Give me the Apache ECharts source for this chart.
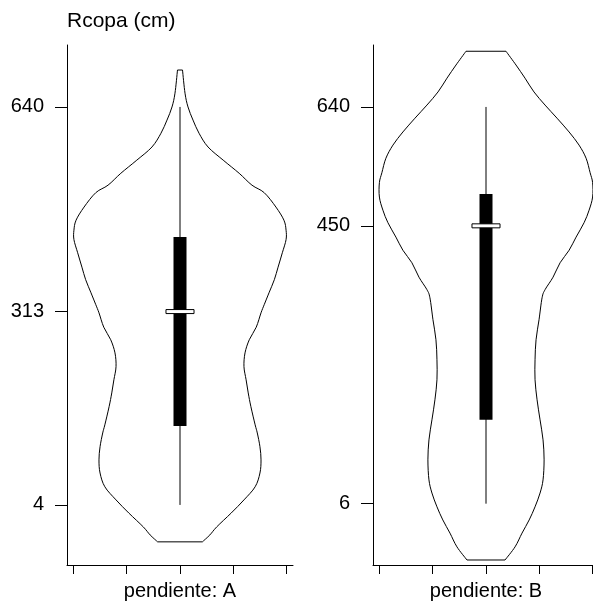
<!DOCTYPE html>
<html>
<head>
<meta charset="utf-8">
<script src="https://cdn.jsdelivr.net/npm/echarts@6/dist/echarts.min.js"></script>
<style>
  html, body { margin: 0; padding: 0; background: #fff; }
  #chart { width: 593px; height: 605px; }
</style>
</head>
<body>
<div id="chart"></div>
<script>
// Panel labels
const panelNames = ['pendiente: A', 'pendiente: B'];
const yAxisTitle = 'Rcopa (cm)';

// Density outline, pendiente A: Rcopa values (top to bottom) and half-widths
const densityValuesA = [699, 662, 640, 619, 598, 576, 555, 534, 515, 503, 480, 459, 443, 428, 407, 384, 364, 343,
  324, 311, 288, 268, 247, 225, 204, 183, 161, 132, 119, 97, 76, 55, 33, 12, -9, -31, -44, -55];
const densityWidthsA = [0.047, 0.094, 0.15, 0.244, 0.357, 0.526, 0.81, 1.11, 1.35, 1.58, 1.80, 1.95, 1.99, 1.99,
  1.92, 1.84, 1.77, 1.67, 1.58, 1.52, 1.43, 1.30, 1.22, 1.20, 1.24, 1.28, 1.33, 1.41, 1.45, 1.50, 1.52, 1.50,
  1.41, 1.20, 0.96, 0.69, 0.56, 0.42];

// Density outline, pendiente B
const densityValuesB = [729, 707, 686, 664, 643, 622, 600, 579, 558, 535, 519, 496, 475, 455, 432, 411, 391, 368,
  348, 335, 300, 268, 236, 204, 172, 140, 108, 76, 44, 23, 1, -20, -41, -63, -84];
const densityWidthsB = [0.375, 0.563, 0.732, 0.90, 1.108, 1.333, 1.559, 1.746, 1.878, 1.953, 2.0, 2.0, 1.934,
  1.84, 1.69, 1.559, 1.39, 1.258, 1.108, 1.052, 0.995, 0.939, 0.92, 0.92, 0.958, 1.014, 1.07, 1.09, 1.07, 1.014,
  0.92, 0.81, 0.676, 0.545, 0.357];

// Box statistics: lower whisker, Q1, median, Q3, upper whisker
const boxStatsA = [4, 130, 313, 432, 640];
const boxStatsB = [6, 140, 450, 501, 640];

// Tick labels on each value axis
const tickValuesA = [4, 313, 640];
const tickValuesB = [6, 450, 640];

// Tick positions along each panel's horizontal axis
const xTickPositions = [-2, -1, 0, 1, 2];

const FONT = '"Liberation Sans", Arial, Helvetica, sans-serif';

// Smooth curve through pixel points as a chain of cubic Bezier pieces (Catmull-Rom)
function smoothCurve(points, style) {
  const pieces = [];
  const n = points.length;
  for (let i = 0; i < n - 1; i++) {
    const p0 = points[Math.max(i - 1, 0)];
    const p1 = points[i];
    const p2 = points[i + 1];
    const p3 = points[Math.min(i + 2, n - 1)];
    pieces.push({
      type: 'bezierCurve',
      shape: {
        x1: p1[0], y1: p1[1], x2: p2[0], y2: p2[1],
        cpx1: p1[0] + (p2[0] - p0[0]) / 6, cpy1: p1[1] + (p2[1] - p0[1]) / 6,
        cpx2: p2[0] - (p3[0] - p1[0]) / 6, cpy2: p2[1] - (p3[1] - p1[1]) / 6
      },
      style: style
    });
  }
  return pieces;
}

function violinRenderer(values, widths, stats) {
  return function (params, api) {
    const n = values.length;
    const left = values.map((v, i) => api.coord([-widths[i], v]));
    const right = values.map((v, i) => api.coord([widths[i], v]));
    const outline = { stroke: '#000', lineWidth: 1, fill: null };
    const whiskTop = api.coord([0, stats[4]]);
    const whiskBot = api.coord([0, stats[0]]);
    const q1 = api.coord([0, stats[1]]);
    const q3 = api.coord([0, stats[3]]);
    const med = api.coord([0, stats[2]]);
    const boxHalf = api.size([0.122, 0])[0];
    const medHalf = api.size([0.263, 0])[0];
    const children = []
      .concat(smoothCurve(left, outline))
      .concat(smoothCurve(right, outline))
      .concat([
        { type: 'line', shape: { x1: left[0][0], y1: left[0][1], x2: right[0][0], y2: right[0][1] }, style: outline },
        { type: 'line', shape: { x1: left[n - 1][0], y1: left[n - 1][1], x2: right[n - 1][0], y2: right[n - 1][1] }, style: outline },
        { type: 'line', shape: { x1: whiskTop[0], y1: whiskTop[1], x2: whiskBot[0], y2: whiskBot[1] }, style: outline },
        { type: 'rect', shape: { x: q3[0] - boxHalf, y: q3[1], width: boxHalf * 2, height: q1[1] - q3[1] },
          style: { fill: '#000' } },
        { type: 'rect', shape: { x: med[0] - medHalf, y: med[1] - 2, width: medHalf * 2, height: 4 },
          style: { fill: '#fff', stroke: '#000', lineWidth: 1 } }
      ]);
    return { type: 'group', children: children };
  };
}

function xAxisFor(gridIndex, name) {
  return {
    type: 'value', gridIndex: gridIndex, min: -2.12, max: 2.12,
    name: name, nameLocation: 'middle', nameGap: 16,
    nameTextStyle: { fontFamily: FONT, fontSize: 20, color: '#000', verticalAlign: 'top' },
    axisLine: { show: true, onZero: false, lineStyle: { color: '#000', width: 1 } },
    axisTick: { show: true, customValues: xTickPositions, length: 9, lineStyle: { color: '#000' } },
    axisLabel: { show: false },
    splitLine: { show: false }
  };
}

function yAxisFor(gridIndex, ticks, withTitle) {
  const ax = {
    type: 'value', gridIndex: gridIndex, min: -92, max: 739,
    axisLine: { show: true, onZero: false, lineStyle: { color: '#000', width: 1 } },
    axisTick: { show: true, customValues: ticks, length: 12, lineStyle: { color: '#000' } },
    axisLabel: { show: true, customValues: ticks, margin: 23, fontFamily: FONT, fontSize: 20, color: '#000' },
    splitLine: { show: false }
  };
  if (withTitle) {
    ax.name = yAxisTitle;
    ax.nameLocation = 'end';
    ax.nameGap = 13;
    ax.nameTextStyle = { fontFamily: FONT, fontSize: 21, color: '#000', align: 'left', verticalAlign: 'bottom' };
  }
  return ax;
}

const chart = echarts.init(document.getElementById('chart'), null, { renderer: 'canvas' });
chart.setOption({
  animation: false,
  backgroundColor: '#fff',
  grid: [
    { left: 67, top: 45, width: 226, bottom: 40, outerBoundsMode: 'none' },
    { left: 373, top: 45, width: 226, bottom: 40, outerBoundsMode: 'none' }
  ],
  xAxis: [xAxisFor(0, panelNames[0]), xAxisFor(1, panelNames[1])],
  yAxis: [yAxisFor(0, tickValuesA, true), yAxisFor(1, tickValuesB, false)],
  series: [
    { type: 'custom', xAxisIndex: 0, yAxisIndex: 0, clip: false,
      renderItem: violinRenderer(densityValuesA, densityWidthsA, boxStatsA),
      data: [[0, boxStatsA[2]]] },
    { type: 'custom', xAxisIndex: 1, yAxisIndex: 1, clip: false,
      renderItem: violinRenderer(densityValuesB, densityWidthsB, boxStatsB),
      data: [[0, boxStatsB[2]]] }
  ]
});
</script>
</body>
</html>
